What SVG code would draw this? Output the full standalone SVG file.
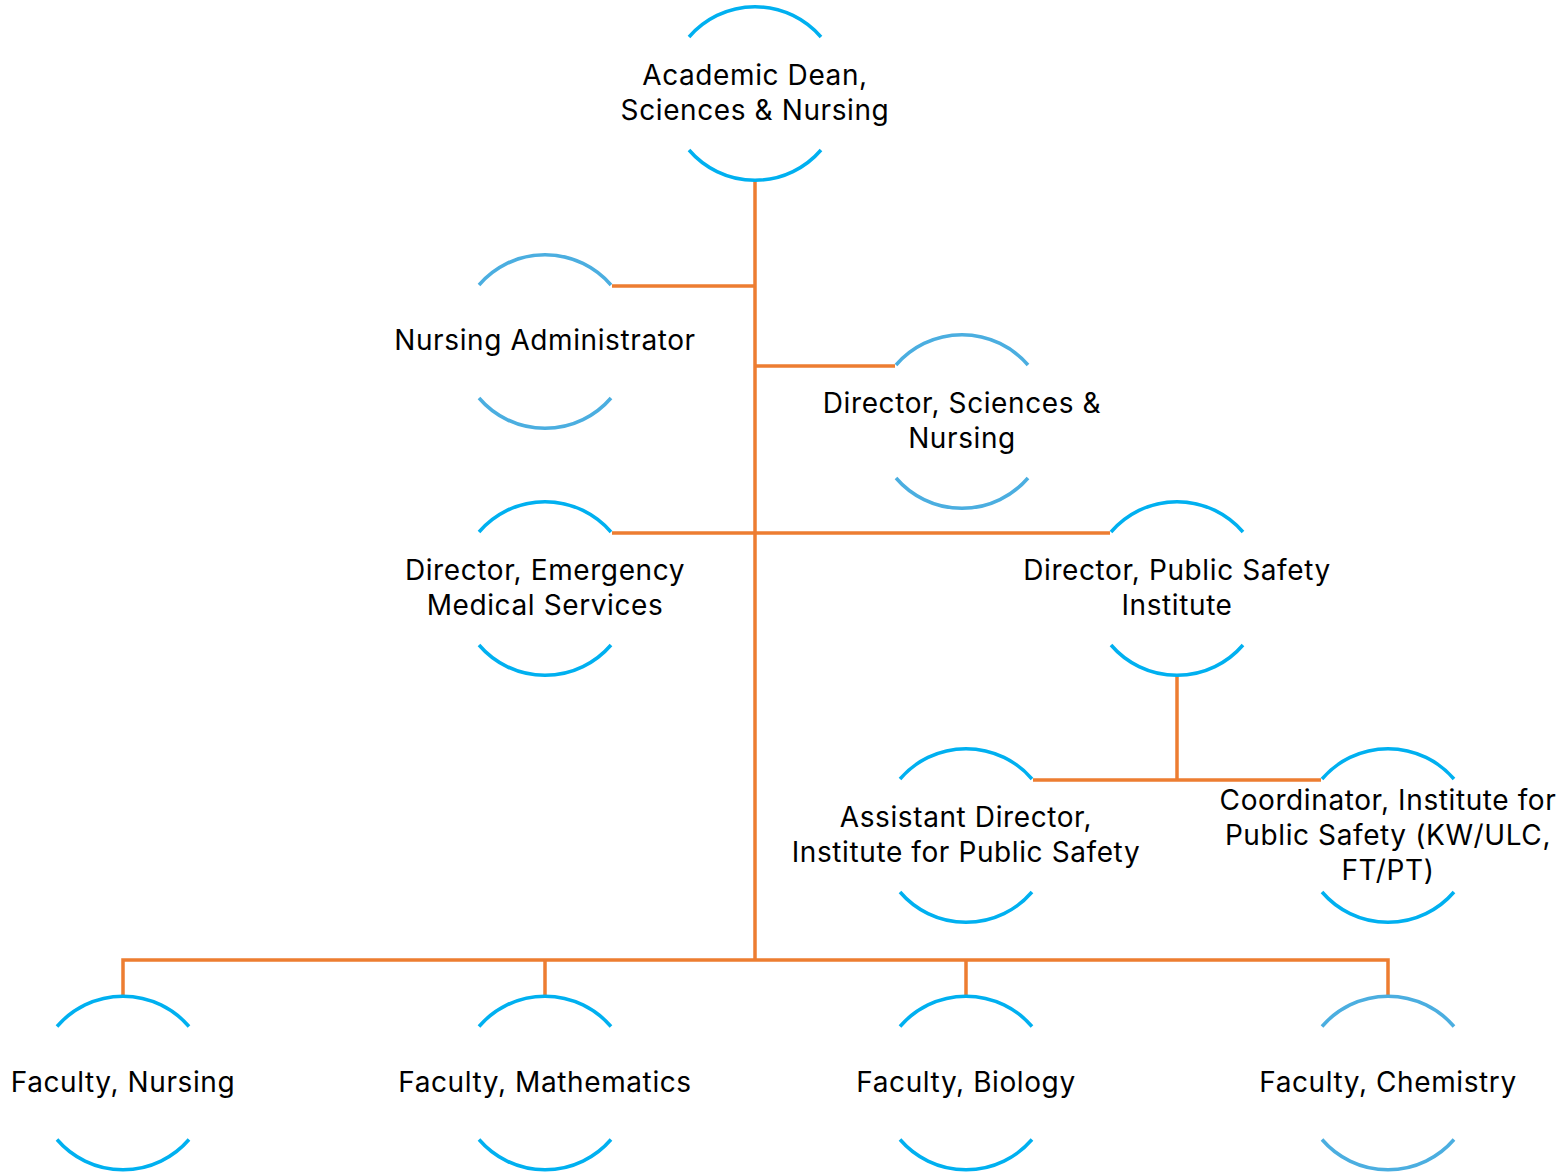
<svg xmlns="http://www.w3.org/2000/svg" width="1567" height="1172" viewBox="0 0 1567 1172">
<style>
.arc{fill:none;stroke:#00B0F0;stroke-width:3.5}
.arc.l{stroke:#4BAEE0}
.c{fill:none;stroke:#ED7D31;stroke-width:3.5}
text{font-family:Inter,"Open Sans",sans-serif;font-size:28px;letter-spacing:0.6px;fill:#000;text-anchor:middle}
</style>
<defs>
<path id="ring" d="M-66,-56.5 A87,87 0 0 1 66,-56.5 M-66,56.5 A87,87 0 0 0 66,56.5"/>
</defs>
<rect width="1567" height="1172" fill="#fff"/>
<g id="connectors">
<path class="c" d="M755,181 V960"/>
<path class="c" d="M612,286 H755"/>
<path class="c" d="M755,366 H895"/>
<path class="c" d="M612,533 H1110"/>
<path class="c" d="M1177,676 V780"/>
<path class="c" d="M1033,780 H1321"/>
<path class="c" d="M123,996 V960 H1388 V996"/>
<path class="c" d="M545,960 V996"/>
<path class="c" d="M966,960 V996"/>
</g>
<g id="dean"><use href="#ring" class="arc" x="755" y="93.5"/><text x="755" y="85">Academic Dean,</text><text x="755" y="120">Sciences &amp; Nursing</text></g>
<g id="nursing-admin"><use href="#ring" class="arc l" x="545" y="341.5"/><text x="545" y="350">Nursing Administrator</text></g>
<g id="dir-sciences"><use href="#ring" class="arc l" x="962" y="421.5"/><text x="962" y="413">Director, Sciences &amp;</text><text x="962" y="448">Nursing</text></g>
<g id="dir-ems"><use href="#ring" class="arc" x="545" y="588.5"/><text x="545" y="580">Director, Emergency</text><text x="545" y="615">Medical Services</text></g>
<g id="dir-psi"><use href="#ring" class="arc" x="1177" y="588.5"/><text x="1177" y="580">Director, Public Safety</text><text x="1177" y="615">Institute</text></g>
<g id="asst-dir"><use href="#ring" class="arc" x="966" y="835.5"/><text x="966" y="827">Assistant Director,</text><text x="966" y="862">Institute for Public Safety</text></g>
<g id="coordinator"><use href="#ring" class="arc" x="1388" y="835.5"/><text x="1388" y="810">Coordinator, Institute for</text><text x="1388" y="845">Public Safety (KW/ULC,</text><text x="1388" y="880">FT/PT)</text></g>
<g id="fac-nursing"><use href="#ring" class="arc" x="123" y="1083"/><text x="123" y="1092">Faculty, Nursing</text></g>
<g id="fac-math"><use href="#ring" class="arc" x="545" y="1083"/><text x="545" y="1092">Faculty, Mathematics</text></g>
<g id="fac-bio"><use href="#ring" class="arc" x="966" y="1083"/><text x="966" y="1092">Faculty, Biology</text></g>
<g id="fac-chem"><use href="#ring" class="arc l" x="1388" y="1083"/><text x="1388" y="1092">Faculty, Chemistry</text></g>
</svg>
